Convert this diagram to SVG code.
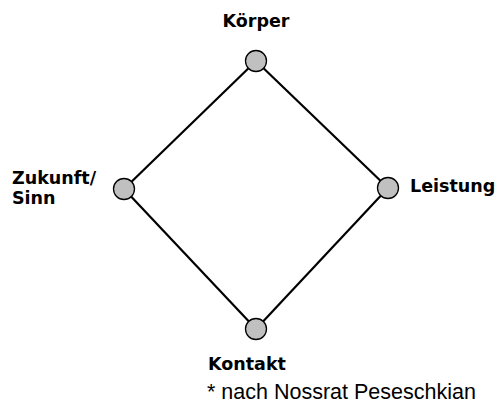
<svg xmlns="http://www.w3.org/2000/svg" width="498" height="408" viewBox="0 0 498 408">
<style>
.lbl{font-family:"DejaVu Sans",sans-serif;font-weight:bold;font-size:17.5px;fill:#000}
.note{font-family:"Liberation Sans",Arial,sans-serif;font-size:21.5px;fill:#000}
.edge{stroke:#000;stroke-width:2.2;fill:none}
.nd{fill:#c0c0c0;stroke:#000;stroke-width:1.3}
</style>
<rect width="498" height="408" fill="#fff"/>
<g id="connectors">
<line class="edge" x1="256" y1="61" x2="388" y2="188"/>
<line class="edge" x1="388" y1="188" x2="256" y2="329"/>
<line class="edge" x1="256" y1="329" x2="124" y2="189"/>
<line class="edge" x1="124" y1="189" x2="256" y2="61"/>
</g>
<g id="koerper">
<circle class="nd" cx="256" cy="61" r="10.5"/>
<text class="lbl" x="256" y="27" text-anchor="middle">Körper</text>
</g>
<g id="leistung">
<circle class="nd" cx="388" cy="188" r="10.5"/>
<text class="lbl" x="410" y="192">Leistung</text>
</g>
<g id="kontakt">
<circle class="nd" cx="256" cy="329" r="10.5"/>
<text class="lbl" x="208" y="370">Kontakt</text>
</g>
<g id="zukunft">
<circle class="nd" cx="124" cy="189" r="10.5"/>
<text class="lbl" x="12" y="184">Zukunft/</text>
<text class="lbl" x="12" y="204">Sinn</text>
</g>
<text class="note" x="207" y="399">* nach Nossrat Peseschkian</text>
</svg>
